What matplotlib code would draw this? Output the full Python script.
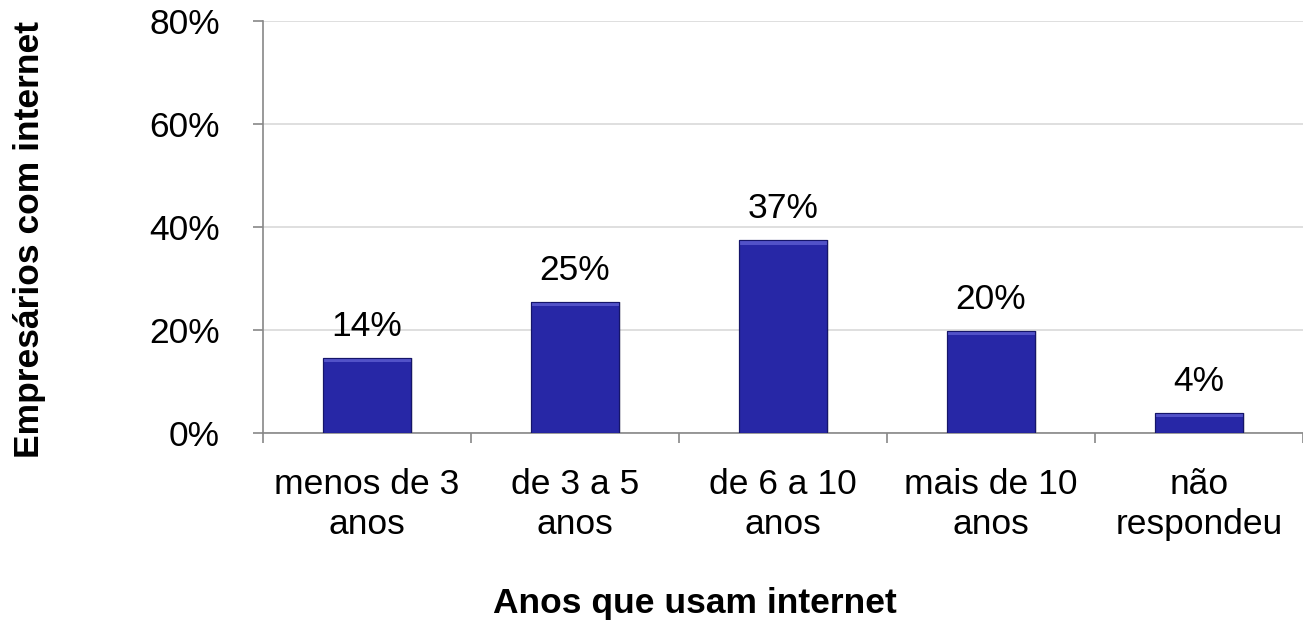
import matplotlib
matplotlib.use("Agg")
import matplotlib.pyplot as plt
import numpy as np

categories = ["menos de 3\nanos", "de 3 a 5\nanos", "de 6 a 10\nanos", "mais de 10\nanos", "não\nrespondeu"]
values = [14.5, 25.4, 37.4, 19.8, 3.9]
labels = ["14%", "25%", "37%", "20%", "4%"]
yticks = [0, 20, 40, 60, 80]
ytick_labels = ["0%", "20%", "40%", "60%", "80%"]

plt.rcParams['font.family'] = ['Liberation Sans', 'DejaVu Sans']
FS = 25.5

fig = plt.figure(figsize=(13.03, 6.23), dpi=100)
ax = fig.add_axes([263/1303, 1-433/623, 1040/1303, 412/623])

x = np.arange(len(categories))
w = 0.42
# shadow
ax.bar(x + 0.012, values, width=w, color='#000000', alpha=0.12, zorder=2)
ax.bar(x, values, width=w, color='#2727A6', edgecolor='#15156a', linewidth=0.8, zorder=3)
# bevel highlight at top
bev = [min(v, 0.8) for v in values]
ax.bar(x, bev, bottom=np.array(values) - np.array(bev), width=w, color='#5252c8', linewidth=0, zorder=4)
ax.bar(x, values, width=w, fill=False, edgecolor='#15156a', linewidth=0.8, zorder=5)

for xi, v, lab in zip(x, values, labels):
    ax.annotate(lab, (xi, v), xytext=(0, 11), textcoords='offset points',
                ha='center', va='bottom', fontsize=FS, color='black')

ax.set_xlim(-0.5, len(categories) - 0.5)
ax.set_ylim(0, 80)
ax.set_yticks(yticks)
ax.set_yticklabels(ytick_labels, fontsize=FS)
ax.set_xticks(x)
ax.set_xticklabels(categories, fontsize=FS, linespacing=1.28)
ax.tick_params(axis='x', length=0, pad=25)
ax.tick_params(axis='y', length=7, width=1.2, color='#888888', pad=24)
ax.set_xticks(np.arange(-0.5, len(categories), 1.0), minor=True)
ax.tick_params(axis='x', which='minor', length=7, width=1.2, color='#888888', direction='out')

ax.grid(axis='y', color='#d9d9d9', linewidth=1.2, zorder=0)
ax.set_axisbelow(True)
for s in ['top', 'right']:
    ax.spines[s].set_visible(False)
for s in ['left', 'bottom']:
    ax.spines[s].set_color('#888888')
    ax.spines[s].set_linewidth(1.2)

fig.text(30/1303, 1-240/623, "Empresários com internet", rotation=90, ha='center', va='center',
         fontsize=FS, fontweight='bold')
fig.text(695/1303, 1-604/623, "Anos que usam internet", ha='center', va='center',
         fontsize=FS, fontweight='bold')

fig.savefig("out.png", dpi=100)
